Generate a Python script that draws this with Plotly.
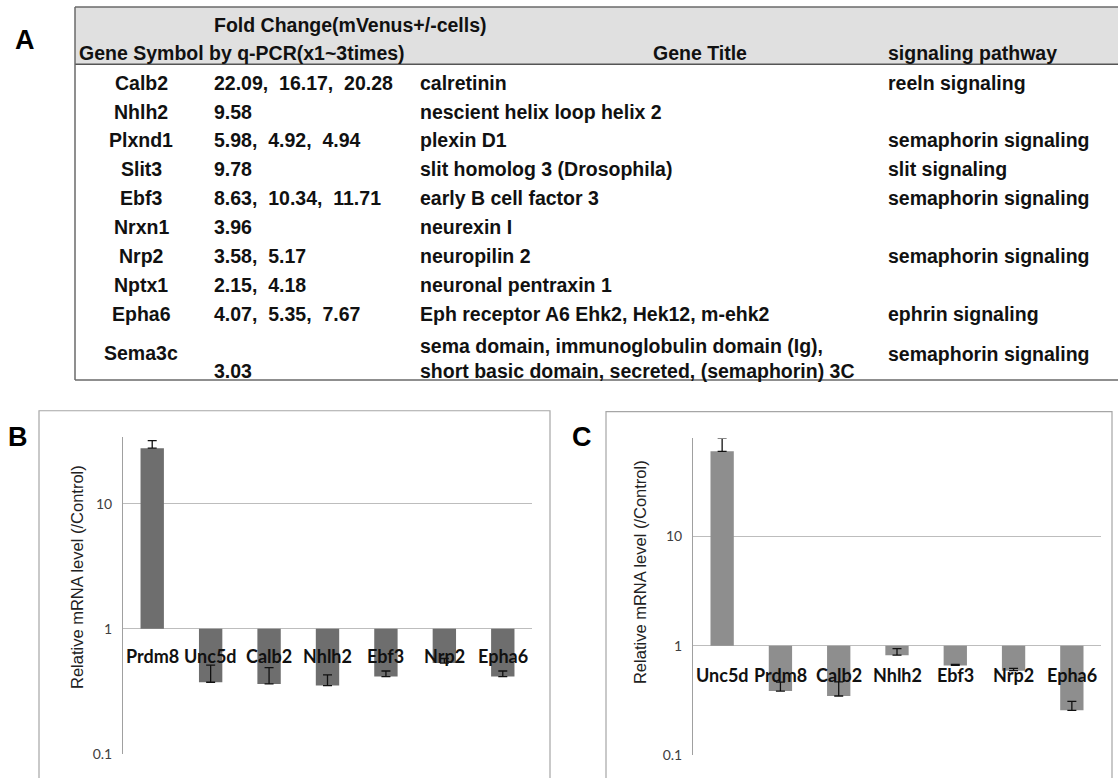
import plotly.graph_objects as go

W, H = 1118, 778

# ---------------- Panel A: table data ----------------
header_top = "Fold Change(mVenus+/-cells)"
header_cols = ["Gene Symbol", "by q-PCR(x1~3times)", "Gene Title", "signaling pathway"]
genes = ["Calb2", "Nhlh2", "Plxnd1", "Slit3", "Ebf3", "Nrxn1", "Nrp2", "Nptx1", "Epha6", "Sema3c"]
fold_changes = ["22.09,  16.17,  20.28", "9.58", "5.98,  4.92,  4.94", "9.78",
                "8.63,  10.34,  11.71", "3.96", "3.58,  5.17", "2.15,  4.18",
                "4.07,  5.35,  7.67", "3.03"]
gene_titles = ["calretinin", "nescient helix loop helix 2", "plexin D1",
               "slit homolog 3 (Drosophila)", "early B cell factor 3", "neurexin I",
               "neuropilin 2", "neuronal pentraxin 1", "Eph receptor A6 Ehk2, Hek12, m-ehk2",
               "sema domain, immunoglobulin domain (Ig),<br>short basic domain, secreted, (semaphorin) 3C"]
pathways = ["reeln signaling", "", "semaphorin signaling", "slit signaling",
            "semaphorin signaling", "", "semaphorin signaling", "", "ephrin signaling",
            "semaphorin signaling"]

# ---------------- Panel B ----------------
b_categories = ["Prdm8", "Unc5d", "Calb2", "Nhlh2", "Ebf3", "Nrp2", "Epha6"]
b_values = [27.8, 0.374, 0.363, 0.352, 0.415, 0.532, 0.415]
b_errors = [4.2, 0.139, 0.126, 0.076, 0.045, 0.047, 0.045]

# ---------------- Panel C ----------------
c_categories = ["Unc5d", "Prdm8", "Calb2", "Nhlh2", "Ebf3", "Nrp2", "Epha6"]
c_values = [60.0, 0.384, 0.346, 0.818, 0.659, 0.59, 0.256]
c_errors = [18.7, 0.08, 0.12, 0.12, 0.015, 0.03, 0.053]

y_tick_vals = [0.1, 1, 10]
y_tick_text = ["0.1", "1", "10"]
y_title = "Relative mRNA level (/Control)"
panel_labels = ["A", "B", "C"]


def px(x):
    return x / W


def py(y):
    return 1 - y / H


TFONT = "Liberation Sans, Arial, sans-serif"
CFONT = "Lato, Calibri, sans-serif"

fig = go.Figure()

# bars B
fig.add_trace(go.Bar(x=b_categories, y=[v - 1 for v in b_values], base=[1] * len(b_values),
                     marker=dict(color="#6e6e6e", line=dict(width=0)), width=0.4,
                     xaxis="x", yaxis="y", showlegend=False))
fig.add_trace(go.Scatter(x=b_categories, y=b_values, mode="markers",
                         marker=dict(opacity=0, size=1),
                         error_y=dict(type="data", symmetric=False, array=b_errors,
                                      arrayminus=[0] * len(b_errors), color="#111",
                                      thickness=1.3, width=4.5),
                         xaxis="x", yaxis="y", showlegend=False, cliponaxis=False))
# bars C
fig.add_trace(go.Bar(x=c_categories, y=[v - 1 for v in c_values], base=[1] * len(c_values),
                     marker=dict(color="#8e8e8e", line=dict(width=0)), width=0.4,
                     xaxis="x2", yaxis="y2", showlegend=False))
fig.add_trace(go.Scatter(x=c_categories, y=c_values, mode="markers",
                         marker=dict(opacity=0, size=1),
                         error_y=dict(type="data", symmetric=False, array=c_errors,
                                      arrayminus=[0] * len(c_errors), color="#111",
                                      thickness=1.3, width=4.5),
                         xaxis="x2", yaxis="y2", showlegend=False, cliponaxis=False))

yaxis_common = dict(type="log", tickvals=y_tick_vals, ticktext=y_tick_text,
                    showgrid=True, gridcolor="#bdbdbd", gridwidth=1,
                    showline=True, linecolor="#a0a0a0", linewidth=1,
                    ticks="", zeroline=False, ticklabelstandoff=7,
                    tickfont=dict(family=CFONT, size=14, color="#404040"))
xaxis_common = dict(type="category", range=[-0.5, 6.5], showgrid=False, zeroline=False,
                    showline=False, showticklabels=False, ticks="")

fig.update_layout(
    width=W, height=H, margin=dict(l=0, r=0, t=0, b=0),
    paper_bgcolor="white", plot_bgcolor="rgba(0,0,0,0)",
    bargap=0.6,
    xaxis=dict(domain=[px(123), px(532)], anchor="y", **xaxis_common),
    yaxis=dict(domain=[py(762), py(442)], anchor="x", range=[-1.002, 1.53], **yaxis_common),
    xaxis2=dict(domain=[px(693), px(1101)], anchor="y2", **xaxis_common),
    yaxis2=dict(domain=[py(763), py(443)], anchor="x2", range=[-1.002, 1.896], **yaxis_common),
)

shapes = []
ann = []

# ---- table ----
tl, tr, ttop, thead, tbot = 75, 1130, 7, 65, 384
shapes.append(dict(type="rect", xref="paper", yref="paper", x0=px(tl), x1=px(tr),
                   y0=py(thead), y1=py(ttop), fillcolor="#e0e0e0", line=dict(width=0), layer="below"))
for (x0, y0, x1, y1, c, w) in [(tl, ttop, tr, ttop, "#6a6a6a", 1.5), (tl, thead, tr, thead, "#555555", 1.5),
                               (tl, tbot, tr, tbot, "#6a6a6a", 1.5), (tl, ttop, tl, tbot, "#6a6a6a", 1.5)]:
    shapes.append(dict(type="line", xref="paper", yref="paper", x0=px(x0), x1=px(x1),
                       y0=py(y0), y1=py(y1), line=dict(color=c, width=w)))

TS = 19.5


def tadd(text, x, y, xanchor="left"):
    ann.append(dict(text="<b>%s</b>" % text, x=px(x), y=py(y), xref="paper", yref="paper",
                    xanchor=xanchor, yanchor="middle", showarrow=False, align="left",
                    font=dict(family=TFONT, size=TS, color="#111")))


col_gene, col_fold, col_title, col_path = 141, 212, 418, 886
tadd(header_top, col_fold, 25)
tadd(header_cols[0], col_gene, 54, "center")
tadd(header_cols[1], 207, 54)
tadd(header_cols[2], 700, 54, "center")
tadd(header_cols[3], col_path, 54)

row0, step = 83.5, 29.2
for i, g in enumerate(genes):
    if "<br>" in gene_titles[i]:
        tadd(g, col_gene, 357, "center")
        tadd(fold_changes[i], col_fold, 375)
        tadd(gene_titles[i], col_title, 362)
        tadd(pathways[i], col_path, 358)
    else:
        y = row0 + i * step
        tadd(g, col_gene, y, "center")
        tadd(fold_changes[i], col_fold, y)
        tadd(gene_titles[i], col_title, y)
        if pathways[i]:
            tadd(pathways[i], col_path, y)

# ---- panel boxes ----
for (x0, y0, x1, y1) in [(39, 415, 550, 800), (606, 416, 1112, 800)]:
    shapes.append(dict(type="rect", xref="paper", yref="paper", x0=px(x0), x1=px(x1),
                       y0=py(y1), y1=py(y0), line=dict(color="#a6a6a6", width=1.2),
                       fillcolor="rgba(0,0,0,0)", layer="below"))

# panel labels
for lab, (x, y) in zip(panel_labels, [(25, 40), (18, 442), (582, 442)]):
    ann.append(dict(text="<b>%s</b>" % lab, x=px(x), y=py(y), xref="paper", yref="paper",
                    xanchor="center", yanchor="middle", showarrow=False,
                    font=dict(family=TFONT, size=27, color="#000")))

# y titles
for (x, y) in [(77, 583), (640, 578)]:
    ann.append(dict(text=y_title, x=px(x), y=py(y), xref="paper", yref="paper",
                    xanchor="center", yanchor="middle", showarrow=False, textangle=-90,
                    font=dict(family=TFONT, size=16.5, color="#222")))

# category labels along the 1-line
for cats, xr, yr, sh in [(b_categories, "x", "y", -27), (c_categories, "x2", "y2", -29)]:
    for c in cats:
        ann.append(dict(text="<b>%s</b>" % c, x=c, y=0, xref=xr, yref=yr,
                        xanchor="center", yanchor="middle", yshift=sh, showarrow=False,
                        font=dict(family=CFONT, size=18, color="#111")))

fig.update_layout(shapes=shapes, annotations=ann)

fig.write_html("out.html", config={"displayModeBar": False},
               post_script="document.body.style.margin='0';document.body.style.overflow='hidden';")
